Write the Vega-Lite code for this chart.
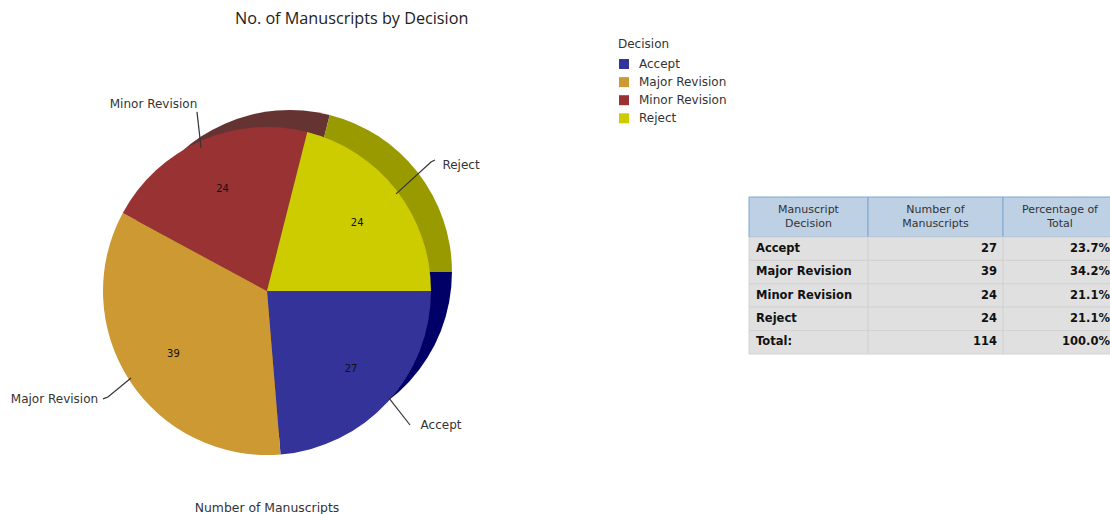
{
"$schema":"https://vega.github.io/schema/vega-lite/v6.json",
"width":1110,"height":514,"autosize":{"type":"none"},"padding":0,"background":"#ffffff",
"title":{"text":"No. of Manuscripts by Decision","anchor":"start","frame":"group","dx":235,"offset":-27,"fontSize":16.2,"fontWeight":"normal","font":"Open Sans","color":"#222222"},
"config":{"view":{"stroke":null},"font":"DejaVu Sans"},
"datasets":{
"decisions":[
{"Decision":"Accept","Manuscripts":27},
{"Decision":"Major Revision","Manuscripts":39},
{"Decision":"Minor Revision","Manuscripts":24},
{"Decision":"Reject","Manuscripts":24}],
"callouts":[
{"Decision":"Accept","across":1.061,"up":-0.811},
{"Decision":"Major Revision","across":-1.296,"up":-0.652},
{"Decision":"Minor Revision","across":-0.692,"up":1.146},
{"Decision":"Reject","across":1.183,"up":0.774}],
"leaders":[
{"Decision":"Accept","step":1,"across":0.738,"up":-0.64},
{"Decision":"Accept","step":2,"across":0.872,"up":-0.811},
{"Decision":"Major Revision","step":1,"across":-0.829,"up":-0.524},
{"Decision":"Major Revision","step":2,"across":-0.97,"up":-0.64},
{"Decision":"Major Revision","step":3,"across":-1.0,"up":-0.652},
{"Decision":"Minor Revision","step":1,"across":-0.402,"up":0.878},
{"Decision":"Minor Revision","step":2,"across":-0.427,"up":1.098},
{"Decision":"Reject","step":1,"across":0.787,"up":0.598},
{"Decision":"Reject","step":2,"across":1.0,"up":0.793},
{"Decision":"Reject","step":3,"across":1.024,"up":0.805}],
"head":[{"Decision":"Manuscript\nDecision","Count":"Number of\nManuscripts","Share":"Percentage of\nTotal"}],
"rows":[
{"Decision":"Accept","Count":"27","Share":"23.7%"},
{"Decision":"Major Revision","Count":"39","Share":"34.2%"},
{"Decision":"Minor Revision","Count":"24","Share":"21.1%"},
{"Decision":"Reject","Count":"24","Share":"21.1%"},
{"Decision":"Total:","Count":"114","Share":"100.0%"}]
},
"resolve":{"scale":{"x":"independent","y":"independent","color":"independent","theta":"independent"}},
"layer":[
{"data":{"name":"decisions"},
 "mark":{"type":"arc","outerRadius":162},
 "encoding":{
  "x":{"datum":0.14,"type":"quantitative","scale":{"domain":[-1.62805,5.14024],"nice":false,"zero":false},"axis":null},
  "y":{"datum":0.122,"type":"quantitative","scale":{"domain":[-1.35366,1.78049],"nice":false,"zero":false},"axis":null},
  "theta":{"field":"Manuscripts","type":"quantitative","stack":true,"scale":{"range":[1.5708,7.854]}},
  "color":{"field":"Decision","type":"nominal","legend":null,"scale":{"range":["#000066","#996633","#663333","#999900"]}}}},
{"layer":[
 {"data":{"name":"decisions"},
  "mark":{"type":"arc","outerRadius":164},
  "encoding":{
   "x":{"datum":0,"type":"quantitative","scale":{"domain":[-1.62805,5.14024],"nice":false,"zero":false},"axis":null},
   "y":{"datum":0.006,"type":"quantitative","scale":{"domain":[-1.35366,1.78049],"nice":false,"zero":false},"axis":null},
   "theta":{"field":"Manuscripts","type":"quantitative","stack":true,"scale":{"range":[1.5708,7.854]}},
   "color":{"field":"Decision","type":"nominal","scale":{"range":["#333399","#CC9933","#993333","#CCCC00"]},
    "legend":{"title":"Decision","orient":"none","legendX":618,"legendY":39,"symbolType":"square","symbolSize":100,"symbolStrokeWidth":0,"titleFontSize":12,"titleFontWeight":"normal","titleColor":"#333333","labelFontSize":12,"labelColor":"#333333","labelOffset":9,"rowPadding":6.1,"titlePadding":7,"padding":0}}}},
 {"data":{"name":"decisions"},
  "mark":{"type":"text","radius":113,"fontSize":10,"color":"#111111"},
  "encoding":{
   "x":{"datum":0.006,"type":"quantitative","axis":null},
   "y":{"datum":0,"type":"quantitative","axis":null},
   "theta":{"field":"Manuscripts","type":"quantitative","stack":true},
   "order":{"field":"Decision","sort":"ascending"},
   "text":{"field":"Manuscripts","type":"quantitative"}}},
 {"data":{"name":"leaders"},
  "mark":{"type":"line","color":"#333333","strokeWidth":1.2},
  "encoding":{
   "x":{"field":"across","type":"quantitative","axis":null},
   "y":{"field":"up","type":"quantitative","axis":null},
   "detail":{"field":"Decision"},
   "order":{"field":"step"}}},
 {"data":{"name":"callouts"},
  "mark":{"type":"text","fontSize":12,"color":"#333333"},
  "encoding":{
   "x":{"field":"across","type":"quantitative","axis":null},
   "y":{"field":"up","type":"quantitative","axis":null},
   "text":{"field":"Decision"}}},
 {"data":{"values":[{"caption":"Number of Manuscripts"}]},
  "mark":{"type":"text","fontSize":12.4,"color":"#333333"},
  "encoding":{
   "x":{"datum":0,"type":"quantitative","axis":null},
   "y":{"datum":-1.317,"type":"quantitative","axis":null},
   "text":{"field":"caption"}}}
]},
{"data":{"name":"head"},
 "layer":[
 {"mark":{"type":"rect","fill":"#BDD0E4","stroke":"#7FA8CF","strokeWidth":1},
  "encoding":{"x":{"datum":0,"type":"quantitative","scale":{"domain":[0,361],"range":[749,1110],"nice":false},"axis":null},"x2":{"datum":119},"y":{"field":"Decision","type":"nominal","scale":{"range":[197,237],"padding":0},"axis":null}}},
 {"mark":{"type":"rect","fill":"#BDD0E4","stroke":"#7FA8CF","strokeWidth":1},
  "encoding":{"x":{"datum":119,"type":"quantitative"},"x2":{"datum":254},"y":{"field":"Decision","type":"nominal"}}},
 {"mark":{"type":"rect","fill":"#BDD0E4","stroke":"#7FA8CF","strokeWidth":1},
  "encoding":{"x":{"datum":254,"type":"quantitative"},"x2":{"datum":370},"y":{"field":"Decision","type":"nominal"}}},
 {"mark":{"type":"text","lineBreak":"\n","fontSize":11,"lineHeight":14,"dy":-7,"color":"#333333"},
  "encoding":{"x":{"datum":59.5,"type":"quantitative"},"y":{"field":"Decision","type":"nominal"},"text":{"field":"Decision"}}},
 {"mark":{"type":"text","lineBreak":"\n","fontSize":11,"lineHeight":14,"dy":-7,"color":"#333333"},
  "encoding":{"x":{"datum":186.5,"type":"quantitative"},"y":{"field":"Decision","type":"nominal"},"text":{"field":"Count"}}},
 {"mark":{"type":"text","lineBreak":"\n","fontSize":11,"lineHeight":14,"dy":-7,"color":"#333333"},
  "encoding":{"x":{"datum":311,"type":"quantitative"},"y":{"field":"Decision","type":"nominal"},"text":{"field":"Share"}}}
]},
{"data":{"name":"rows"},
 "layer":[
 {"mark":{"type":"rect","fill":"#E0E0E0","stroke":"#D2D2D2","strokeWidth":1},
  "encoding":{"x":{"datum":0,"type":"quantitative","scale":{"domain":[0,361],"range":[749,1110],"nice":false},"axis":null},"x2":{"datum":119},"y":{"field":"Decision","type":"nominal","sort":null,"scale":{"range":[237,354],"padding":0},"axis":null}}},
 {"mark":{"type":"rect","fill":"#E0E0E0","stroke":"#D2D2D2","strokeWidth":1},
  "encoding":{"x":{"datum":119,"type":"quantitative"},"x2":{"datum":254},"y":{"field":"Decision","type":"nominal","sort":null}}},
 {"mark":{"type":"rect","fill":"#E0E0E0","stroke":"#D2D2D2","strokeWidth":1},
  "encoding":{"x":{"datum":254,"type":"quantitative"},"x2":{"datum":370},"y":{"field":"Decision","type":"nominal","sort":null}}},
 {"mark":{"type":"text","align":"left","fontSize":11.5,"fontWeight":"bold","color":"#111111"},
  "encoding":{"x":{"datum":7,"type":"quantitative"},"y":{"field":"Decision","type":"nominal","sort":null},"text":{"field":"Decision"}}},
 {"mark":{"type":"text","align":"right","fontSize":11.5,"fontWeight":"bold","color":"#111111"},
  "encoding":{"x":{"datum":248,"type":"quantitative"},"y":{"field":"Decision","type":"nominal","sort":null},"text":{"field":"Count"}}},
 {"mark":{"type":"text","align":"right","fontSize":11.5,"fontWeight":"bold","color":"#111111"},
  "encoding":{"x":{"datum":361,"type":"quantitative"},"y":{"field":"Decision","type":"nominal","sort":null},"text":{"field":"Share"}}}
]}
]
}
